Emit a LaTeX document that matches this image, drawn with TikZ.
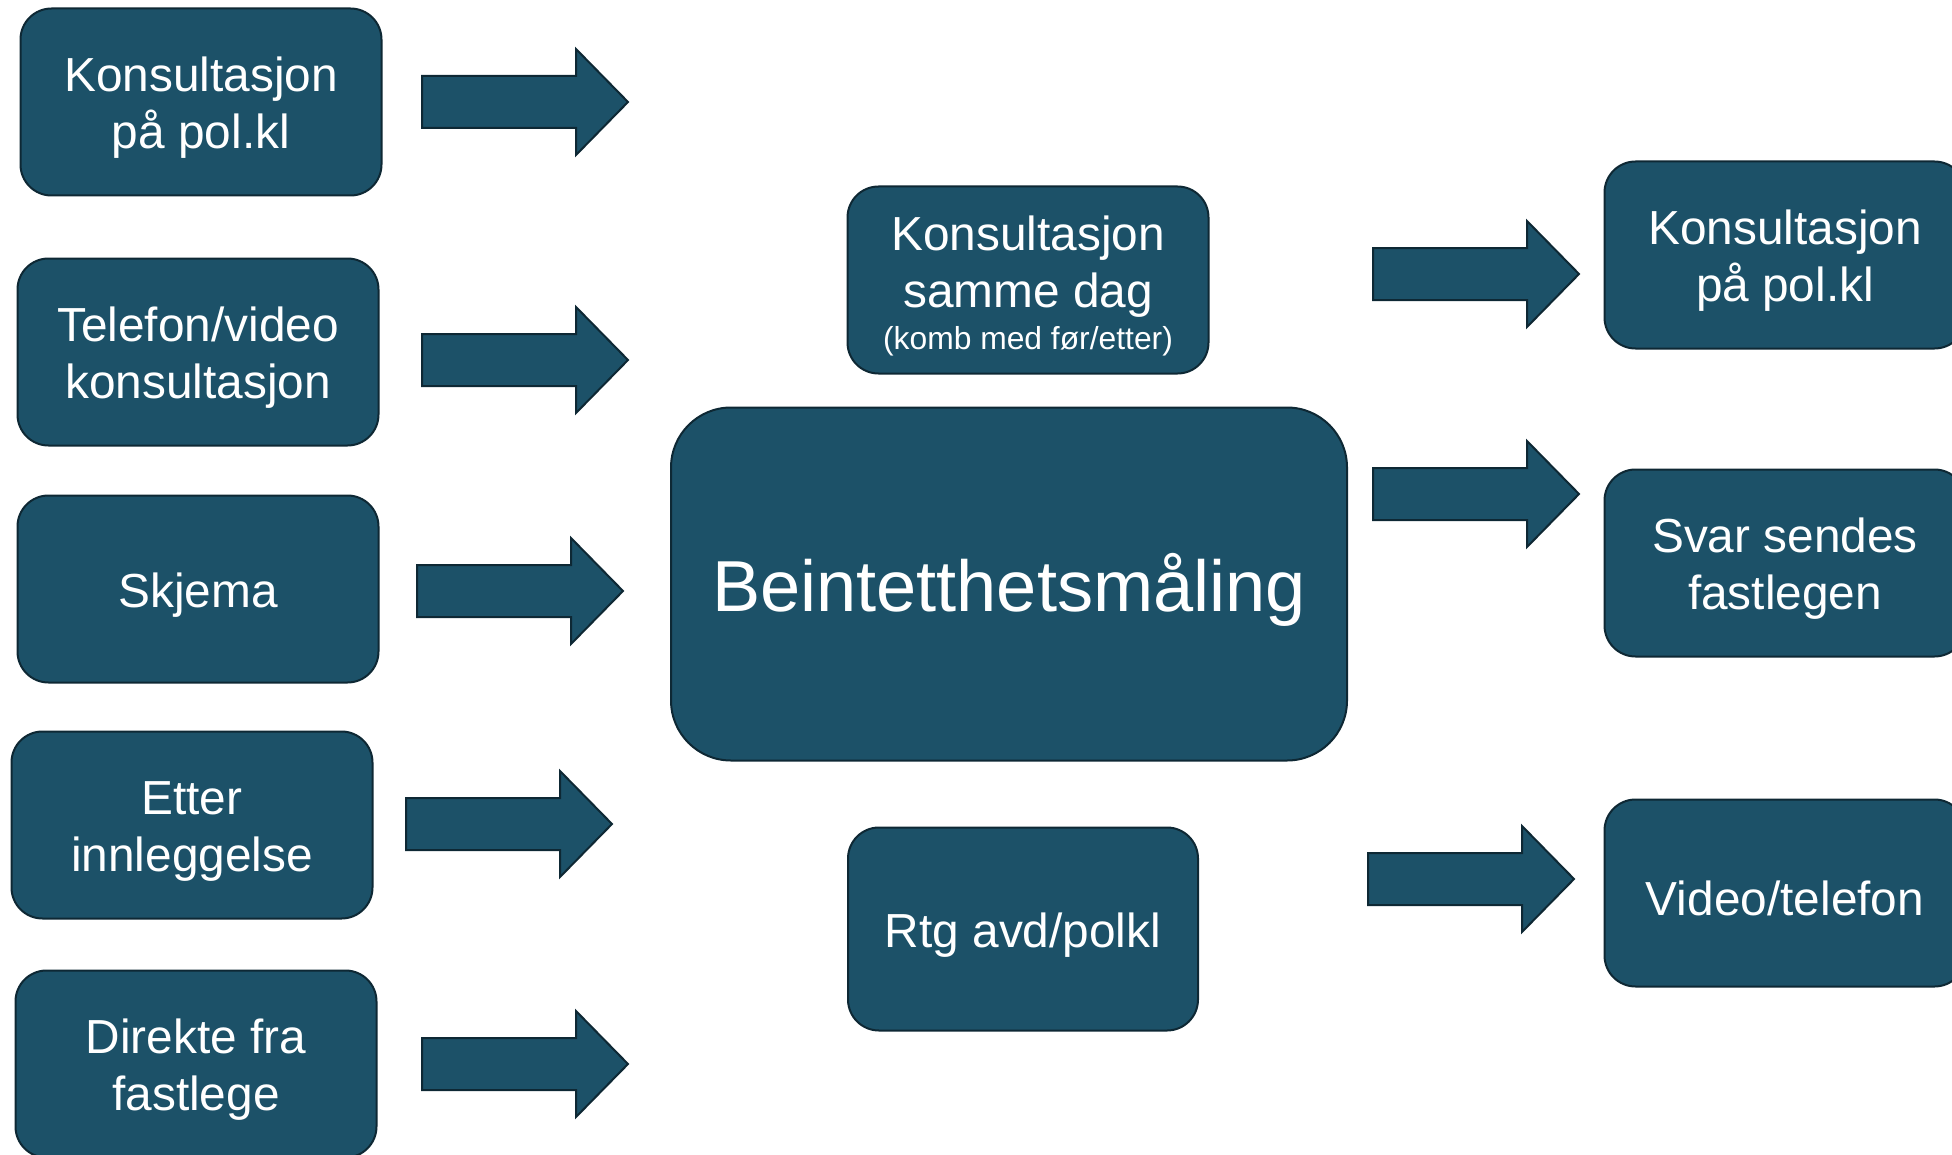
\documentclass[tikz,border=0pt]{standalone}
\usepackage{fontspec}
\setmainfont{Liberation Sans}
\usetikzlibrary{positioning}
\definecolor{boxblue}{RGB}{28,81,104}
\definecolor{boxline}{RGB}{14,40,52}
\newcommand{\lift}{\rule{0pt}{0.97em}}

\begin{document}
\begin{tikzpicture}[x=0.5pt, y=-0.5pt,
  main/.style = {draw=boxline, line width=1pt, fill=boxblue, text=white, rounded corners=15.5pt, align=center, minimum width=180.5pt, minimum height=93.5pt, font=\fontsize{23.9}{28.6}\selectfont},
  blockarrow/.style = {draw=boxline, line width=1pt, fill=boxblue}]
\useasboundingbox (0,0) rectangle (1952,1155);
\clip (0,0) rectangle (1952,1155);
% left column
\node[main] (1) at (201,102) {\lift Konsultasjon\\på pol.kl};
\node[main] (2) at (198,352) {\lift Telefon/video\\konsultasjon};
\node[main] (3) at (198,589) {\lift Skjema};
\node[main] (4) at (192,825) {\lift Etter\\innleggelse};
\node[main] (5) at (196,1064) {\lift Direkte fra\\fastlege};
% middle column
\node[main] (6) at (1028,280) {\lift Konsultasjon\\samme dag\\[-7.4pt]{\fontsize{15.9}{19}\selectfont (komb med før/etter)}};
\node[main, minimum width=338pt, minimum height=176.5pt, rounded corners=30pt, font=\fontsize{36.1}{43}\selectfont] (7) at (1009,584) {\lift Beintetthetsmåling};
\node[main, minimum width=175pt, minimum height=101.5pt] (8) at (1023,929) {\lift Rtg avd/polkl};
% right column
\node[main] (9) at (1785,255) {\lift Konsultasjon\\på pol.kl};
\node[main] (10) at (1785,563) {\lift Svar sendes\\fastlegen};
\node[main] (11) at (1785,893) {\lift Video/telefon};
% block arrows
\foreach \x/\y in {422/102, 422/360, 417/591, 406/824, 422/1064, 1373/274, 1373/494, 1368/879}
  \draw[blockarrow] (\x,\y) ++(0,-26) -- ++(154,0) -- ++(0,-27) -- ++(52,53) -- ++(-52,53) -- ++(0,-27) -- ++(-154,0) -- cycle;
\end{tikzpicture}
\end{document}
